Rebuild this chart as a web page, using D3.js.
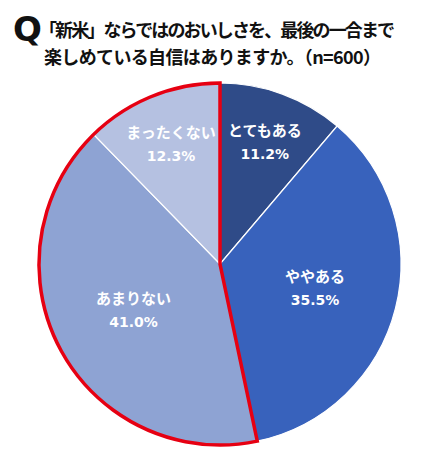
<!DOCTYPE html>
<html>
<head>
<meta charset="utf-8">
<script src="https://cdn.jsdelivr.net/npm/d3@7"></script>
<style>
  html, body { margin: 0; padding: 0; background: #fff; }
  #chart { width: 426px; height: 465px; }
  text { font-family: "Noto Sans CJK JP", "Noto Sans", sans-serif; }
</style>
</head>
<body>
<div id="chart"></div>
<script>
var categories = ["とてもある", "ややある", "あまりない", "まったくない"];
var values = [11.2, 35.5, 41.0, 12.3];
var colors = ["#2f4b88", "#3862bc", "#8ea3d3", "#b5c1e1"];
// slices wrapped by the red outline
var outlined = ["あまりない", "まったくない"];
var titleLines = ["「新米」ならではのおいしさを、最後の一合まで", "楽しめている自信はありますか。（n=600）"];

var chartDiv = document.getElementById("chart");
var width = chartDiv.clientWidth;
var height = chartDiv.clientHeight;

var svg = d3.select(chartDiv).append("svg")
  .attr("width", width)
  .attr("height", height);

// title
svg.append("text")
  .attr("x", 13)
  .attr("y", 41)
  .attr("font-size", 34)
  .attr("font-weight", "bold")
  .style("font-family", "'DejaVu Sans', sans-serif")
  .attr("fill", "#111")
  .text("Q");

svg.selectAll(".title")
  .data(titleLines)
  .enter()
  .append("text")
  .attr("class", "title")
  .attr("x", function (d, i) { return i == 0 ? 39 : 44; })
  .attr("y", function (d, i) { return 37 + i * 27; })
  .attr("font-size", 18)
  .attr("font-weight", "bold")
  .attr("fill", "#111")
  .attr("textLength", function (d, i) { return i == 0 ? 356 : 337; })
  .text(function (d) { return d; });

var cx = 220, cy = 264, r = 181;
var g = svg.append("g").attr("transform", "translate(" + cx + "," + cy + ")");

var data = categories.map(function (c, i) { return { name: c, value: values[i] }; });
var pie = d3.pie().sort(null).value(function (d) { return d.value; });
var arcs = pie(data);
var arc = d3.arc().innerRadius(0).outerRadius(r);

g.selectAll(".slice")
  .data(arcs)
  .enter()
  .append("path")
  .attr("class", "slice")
  .attr("d", arc)
  .attr("fill", function (d, i) { return colors[i]; })
  .attr("stroke", "#fff")
  .attr("stroke-width", 1.2);

// red outline around the "negative" answers
var hl = arcs.filter(function (d) { return outlined.indexOf(d.data.name) >= 0; });
g.append("path")
  .attr("d", arc({
    startAngle: d3.min(hl, function (d) { return d.startAngle; }),
    endAngle: d3.max(hl, function (d) { return d.endAngle; })
  }))
  .attr("fill", "none")
  .attr("stroke", "#e60012")
  .attr("stroke-width", 3.5)
  .attr("stroke-linejoin", "miter");

// labels
function labelPos(d) {
  var lr = d.data.value < 20 ? 130 : 98;
  return d3.arc().innerRadius(lr).outerRadius(lr).centroid(d);
}

var labels = g.selectAll(".lbl")
  .data(arcs)
  .enter()
  .append("g")
  .attr("class", "lbl")
  .attr("transform", function (d) { return "translate(" + labelPos(d) + ")"; });

labels.append("text")
  .attr("text-anchor", "middle")
  .attr("y", -6)
  .attr("font-size", 15)
  .attr("font-weight", "bold")
  .attr("fill", "#fff")
  .text(function (d) { return d.data.name; });

labels.append("text")
  .attr("text-anchor", "middle")
  .attr("y", 17)
  .attr("font-size", 14)
  .attr("font-weight", "bold")
  .style("font-family", "'DejaVu Sans', sans-serif")
  .attr("fill", "#fff")
  .text(function (d) { return d.data.value.toFixed(1) + "%"; });
</script>
</body>
</html>
